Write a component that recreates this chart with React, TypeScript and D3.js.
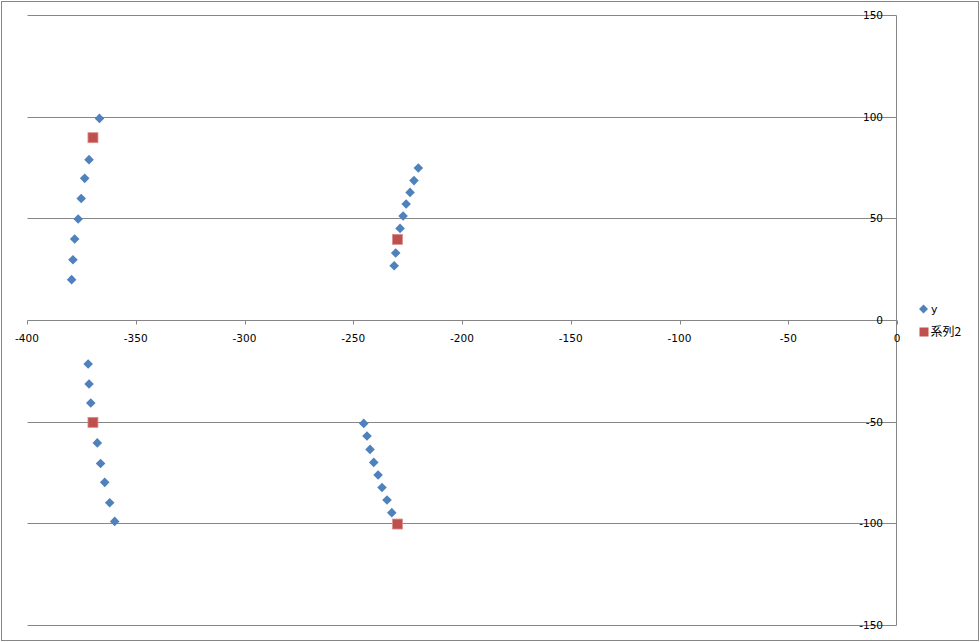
import React from "react";
import * as d3 from "d3";

const seriesYX = [
  -367, -371.8, -373.8, -375.4, -376.8, -378.4, -379.2, -379.8,
  -220.4, -222.4, -224.2, -226.0, -227.4, -228.8, -230.8, -231.5,
  -372.2, -371.8, -371.0, -368.0, -366.5, -364.6, -362.3, -360.0,
  -245.5, -244.0, -242.6, -240.9, -238.9, -237.1, -234.8, -232.6,
];
const seriesYY = [
  99.5, 79.2, 70, 60.1, 50, 40.2, 30, 20.2,
  75.1, 68.9, 63.1, 57.4, 51.5, 45.4, 33.3, 27.0,
  -21.3, -31.1, -40.5, -60.1, -70.2, -79.5, -89.5, -98.7,
  -50.5, -56.7, -63.3, -69.7, -75.9, -82.0, -88.2, -94.4,
];
const series2X = [-370, -230, -370, -230];
const series2Y = [90, 40, -50, -100];

const xTicks = [-400, -350, -300, -250, -200, -150, -100, -50, 0];
const yTicks = [150, 100, 50, 0, -50, -100, -150];
const legendLabels = ["y", "系列2"];

const BLUE = "#4F81BD";
const RED = "#C0504D";
const GRID = "#868686";
const FONT = "'DejaVu Sans', Verdana, sans-serif";

export default function App() {
  const x = d3.scaleLinear().domain([-400, 0]).range([27, 897]);
  const y = d3.scaleLinear().domain([-150, 150]).range([625, 15]);
  const px = (v: number) => Math.round(x(v)) + 0.5;
  const py = (v: number) => Math.round(y(v)) + 0.5;
  const axisX = px(0) - 1;
  const mx = (v: number) => x(v) + 0.7;
  const my = (v: number) => y(v) + 0.7;
  const diamond = (cx: number, cy: number, r: number) =>
    `M${cx},${cy - r}L${cx + r},${cy}L${cx},${cy + r}L${cx - r},${cy}Z`;

  return (
    <svg
      width={980}
      height={642}
      style={{ position: "fixed", left: 0, top: 0, background: "#fff" }}
    >
      <rect x={1.5} y={1.5} width={977} height={639} fill="#fff" stroke={GRID} />
      {yTicks.map((t) => (
        <line key={"g" + t} x1={px(-400)} x2={axisX} y1={py(t)} y2={py(t)} stroke={GRID} />
      ))}
      <line x1={axisX} x2={axisX} y1={py(150)} y2={py(-150)} stroke={GRID} />
      {xTicks.map((t) => (
        <line key={"t" + t} x1={px(t)} x2={px(t)} y1={py(0)} y2={py(0) + 4} stroke={GRID} />
      ))}
      {xTicks.map((t) => (
        <text
          key={"xl" + t}
          x={x(t)}
          y={342}
          textAnchor="middle"
          fontFamily={FONT}
          fontSize={10.5}
          fill="#000"
        >
          {t}
        </text>
      ))}
      {yTicks.map((t) => (
        <text
          key={"yl" + t}
          x={883}
          y={y(t) + 4}
          textAnchor="end"
          fontFamily={FONT}
          fontSize={10.5}
          fill="#000"
        >
          {t}
        </text>
      ))}
      {seriesYX.map((vx, i) => (
        <path key={"d" + i} d={diamond(mx(vx), my(seriesYY[i]), 4.8)} fill={BLUE} />
      ))}
      {series2X.map((vx, i) => (
        <rect
          key={"s" + i}
          x={mx(vx) - 5}
          y={my(series2Y[i]) - 5}
          width={10}
          height={10}
          fill={RED}
          stroke="#D9918F"
          strokeWidth={0.8}
        />
      ))}
      <path d={diamond(923.5, 309, 4.5)} fill={BLUE} />
      <text x={931} y={313} fontFamily={FONT} fontSize={11} fill="#000">
        {legendLabels[0]}
      </text>
      <rect x={919.5} y={327.5} width={9} height={9} fill={RED} />
      <text
        x={930.5}
        y={335.5}
        fontFamily="'Noto Sans CJK JP', 'DejaVu Sans', sans-serif"
        fontSize={12}
        fill="#000"
      >
        {legendLabels[1]}
      </text>
    </svg>
  );
}
